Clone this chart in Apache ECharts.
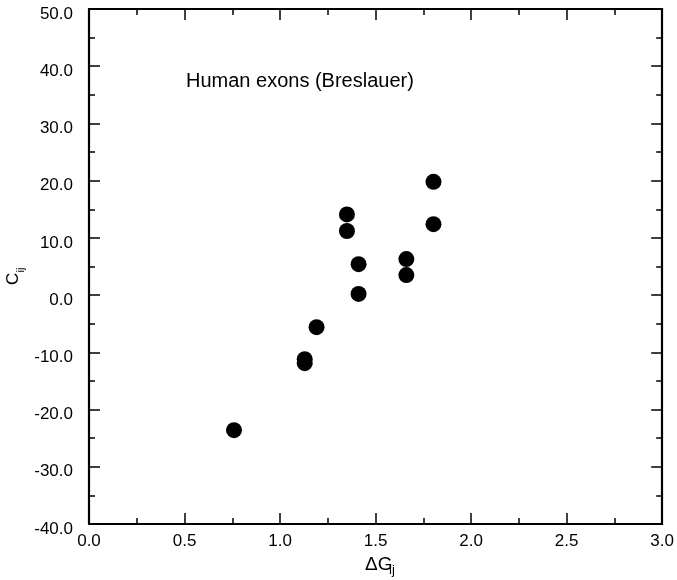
<!DOCTYPE html>
<html>
<head>
<meta charset="utf-8">
<script src="https://cdn.jsdelivr.net/npm/echarts@6/dist/echarts.min.js"></script>
<style>
html,body{margin:0;padding:0;background:#fff;}
#chart{width:677px;height:580px;}
</style>
</head>
<body>
<div id="chart"></div>
<script>
var xValues = [1.803, 1.803, 1.350, 1.350, 1.411, 1.411, 1.661, 1.661, 1.191, 1.129, 1.129, 0.759];
var yValues = [19.8, 12.4, 14.1, 11.2, 5.4, 0.2, 6.3, 3.5, -5.6, -11.2, -11.9, -23.6];
var xTicks = [0.0, 0.5, 1.0, 1.5, 2.0, 2.5, 3.0];
var yTicks = [-40.0, -30.0, -20.0, -10.0, 0.0, 10.0, 20.0, 30.0, 40.0, 50.0];
var annotation = 'Human exons (Breslauer)';

var FONT = '"Liberation Sans", Arial, Helvetica, sans-serif';
var chart = echarts.init(document.getElementById('chart'));

var points = xValues.map(function (x, i) { return [x, yValues[i]]; });

function baseAxis(extra) {
  var a = {
    type: 'value',
    axisLine: { show: true, onZero: false, lineStyle: { color: '#000', width: 2.2 } },
    axisTick: { show: true, inside: true, length: 11, lineStyle: { color: '#000', width: 1.5 } },
    minorTick: { show: true, splitNumber: 2, length: 6, lineStyle: { color: '#000', width: 1.5 } },
    splitLine: { show: false },
    minorSplitLine: { show: false }
  };
  for (var k in extra) a[k] = extra[k];
  return a;
}

var xMin = xTicks[0], xMax = xTicks[xTicks.length - 1];
var yMin = yTicks[0], yMax = yTicks[yTicks.length - 1];

chart.setOption({
  animation: false,
  backgroundColor: '#fff',
  grid: { left: 89, right: 13, top: 9, bottom: 56, containLabel: false },
  xAxis: [
    baseAxis({
      position: 'bottom', min: xMin, max: xMax, interval: 0.5,
      axisLabel: { show: true, margin: 9, color: '#000', fontSize: 17, fontFamily: FONT,
        formatter: function (v) { return v.toFixed(1); } }
    }),
    baseAxis({
      position: 'top', min: xMin, max: xMax, interval: 0.5,
      axisLabel: { show: false }
    })
  ],
  yAxis: [
    baseAxis({
      position: 'left', min: yMin, max: yMax, interval: 10,
      axisLabel: { show: true, margin: 16, color: '#000', fontSize: 17, fontFamily: FONT,
        formatter: function (v) { return '{v|' + v.toFixed(1) + '}'; },
        rich: { v: { fontSize: 17, fontFamily: FONT, color: '#000', padding: [10, 0, 0, 0] } } }
    }),
    baseAxis({
      position: 'right', min: yMin, max: yMax, interval: 10,
      axisLabel: { show: false }
    })
  ],
  series: [{
    type: 'scatter',
    xAxisIndex: 0,
    yAxisIndex: 0,
    data: points,
    symbol: 'circle',
    symbolSize: 16,
    itemStyle: { color: '#000', opacity: 1 }
  }],
  graphic: [
    {
      type: 'text', x: 186, y: 71.5,
      style: { text: annotation, fill: '#000', font: '20px ' + FONT }
    },
    {
      type: 'text', x: 365, y: 555.5,
      style: { text: 'ΔG', fill: '#000', font: '19px ' + FONT }
    },
    {
      type: 'text', x: 389, y: 564,
      style: { text: 'ij', fill: '#000', font: '13px ' + FONT }
    },
    {
      type: 'text', x: 4.7, y: 285, rotation: Math.PI / 2,
      style: { text: 'C', fill: '#000', font: '17px ' + FONT }
    },
    {
      type: 'text', x: 15, y: 272.5, rotation: Math.PI / 2,
      style: { text: 'ij', fill: '#000', font: '11px ' + FONT }
    }
  ]
});
</script>
</body>
</html>
